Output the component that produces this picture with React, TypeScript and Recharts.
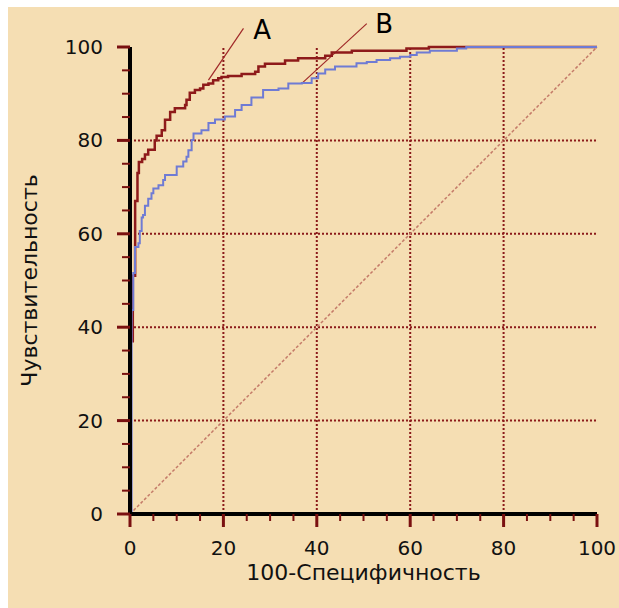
import { Line, LineChart, ReferenceDot, ReferenceLine, XAxis, YAxis } from 'recharts';

// ROC curve A: 100-specificity and sensitivity at each step
const fprA = [0, 0, 0.6, 1.1, 1.6, 1.9, 2.6, 3.2, 3.9, 5.3, 5.7, 6.8, 7.5, 8.6, 9.6, 11.8, 12.1, 12.8, 13.9, 15, 15.7, 16.8, 17.8, 18.9, 19.6, 21, 23.9, 26.8, 27.5, 28.9, 33.2, 36, 41.8, 43.2, 47.5, 59.2, 64, 100];
const tprA = [0, 37, 51, 67, 73, 75.4, 76, 77, 78, 80, 81, 82.2, 84.4, 86.1, 86.9, 87.6, 88.7, 90.2, 90.8, 91.1, 91.9, 92.2, 92.9, 93.3, 93.6, 93.8, 94.2, 94.7, 95.8, 96.4, 97.1, 97.6, 98.1, 98.8, 99.2, 99.7, 100, 100];

// ROC curve B
const fprB = [0, 0.35, 0.7, 1.07, 1.8, 2.1, 2.5, 2.8, 3.2, 3.9, 4.6, 5, 6.1, 7.1, 7.5, 10, 11.4, 12.1, 12.5, 13.2, 13.6, 15.3, 16.8, 18.2, 20.3, 22.5, 23.9, 26, 28.5, 31.8, 33.9, 36.8, 38.9, 40.3, 41.8, 43.9, 48.5, 50.7, 52.8, 55.7, 57.8, 60, 61.4, 64.2, 70, 72, 100];
const tprB = [0, 43.7, 51.6, 57.2, 58, 60.6, 63.5, 64, 66, 67.5, 68.7, 69.7, 70.4, 71.5, 72.6, 74.4, 75.5, 76.5, 77.9, 80.1, 81.5, 82.2, 83.7, 84.5, 85.1, 86.5, 87.6, 89.2, 90.8, 91.1, 92.2, 92.3, 93.3, 94.3, 95.2, 95.8, 96.5, 96.8, 97.2, 97.6, 97.9, 98.3, 98.8, 99.2, 99.7, 100, 100];

const axisTicks = [0, 5, 10, 15, 20, 25, 30, 35, 40, 45, 50, 55, 60, 65, 70, 75, 80, 85, 90, 95, 100];
const gridValues = [20, 40, 60, 80];

// pointer lines for the curve labels
const pointerA = [{ x: 16.8, y: 92.9 }, { x: 24.3, y: 104 }];
const pointerB = [{ x: 36.8, y: 92.2 }, { x: 50.7, y: 105 }];
const labelA = { x: 28.3, y: 103.6 };
const labelB = { x: 54.4, y: 104.9 };

const curveA = fprA.map((x, i) => ({ x, y: tprA[i] }));
const curveB = fprB.map((x, i) => ({ x, y: tprB[i] }));

const TICK_RED = '#7a1010';
const FONT = '"DejaVu Sans", sans-serif';

function XTick({ x, y, payload }: any) {
  const major = payload.value % 20 === 0;
  return (
    <g>
      <line x1={x} x2={x} y1={y} y2={y + (major ? 13 : 7)} stroke={TICK_RED} strokeWidth={major ? 3 : 2} />
      {major && (
        <text x={x} y={y + 41} textAnchor="middle" fontSize={20} fontFamily={FONT} fill="#111">
          {payload.value}
        </text>
      )}
    </g>
  );
}

function YTick({ x, y, payload }: any) {
  const major = payload.value % 20 === 0;
  return (
    <g>
      <line x1={x - (major ? 13 : 8)} x2={x} y1={y} y2={y} stroke={TICK_RED} strokeWidth={major ? 3 : 2} />
      {major && (
        <text x={x - 27} y={y + 7} textAnchor="end" fontSize={20} fontFamily={FONT} fill="#111">
          {payload.value}
        </text>
      )}
    </g>
  );
}

export default function App() {
  return (
    <div style={{ position: 'absolute', left: 8, top: 7, width: 611, height: 601, background: '#f5deb3', fontFamily: FONT }}>
      <LineChart width={611} height={601} margin={{ top: 40, right: 22, left: 62, bottom: 64 }}>
        {gridValues.map((v) => (
          <ReferenceLine key={'gx' + v} x={v} stroke="#8b1a1a" strokeWidth={2} strokeDasharray="2 2" />
        ))}
        {gridValues.map((v) => (
          <ReferenceLine key={'gy' + v} y={v} stroke="#8b1a1a" strokeWidth={2} strokeDasharray="2 2" />
        ))}
        <ReferenceLine
          segment={[{ x: 0, y: 0 }, { x: 100, y: 100 }]}
          stroke="#c47a68"
          strokeWidth={1.5}
          strokeDasharray="3 2"
        />
        <ReferenceLine segment={pointerA} stroke="#a02828" strokeWidth={1.2} ifOverflow="visible" />
        <ReferenceLine segment={pointerB} stroke="#a02828" strokeWidth={1.2} ifOverflow="visible" />
        <ReferenceDot
          x={labelA.x}
          y={labelA.y}
          r={0}
          ifOverflow="visible"
          label={{ value: 'A', position: 'center', fontSize: 26, fill: '#000', fontFamily: FONT }}
        />
        <ReferenceDot
          x={labelB.x}
          y={labelB.y}
          r={0}
          ifOverflow="visible"
          label={{ value: 'B', position: 'center', fontSize: 26, fill: '#000', fontFamily: FONT }}
        />
        <XAxis
          type="number"
          dataKey="x"
          domain={[0, 100]}
          ticks={axisTicks}
          interval={0}
          tickSize={0}
          tickMargin={0}
          height={30}
          axisLine={{ stroke: '#000', strokeWidth: 4 }}
          tick={<XTick />}
          label={{ value: '100-Специфичность', position: 'bottom', offset: 20, fontSize: 22, fill: '#111' }}
        />
        <YAxis
          type="number"
          dataKey="y"
          domain={[0, 100]}
          ticks={axisTicks}
          interval={0}
          tickSize={0}
          tickMargin={0}
          width={60}
          axisLine={{ stroke: '#000', strokeWidth: 4 }}
          tick={<YTick />}
          label={{
            value: 'Чувствительность',
            angle: -90,
            position: 'insideLeft',
            offset: -41,
            fontSize: 22,
            fill: '#111',
            style: { textAnchor: 'middle' },
          }}
        />
        <Line data={curveA} dataKey="y" type="stepAfter" stroke="#8e1a1a" strokeWidth={2.5} dot={false} isAnimationActive={false} />
        <Line data={curveB} dataKey="y" type="stepAfter" stroke="#6f7bd4" strokeWidth={2} dot={false} isAnimationActive={false} />
      </LineChart>
    </div>
  );
}
